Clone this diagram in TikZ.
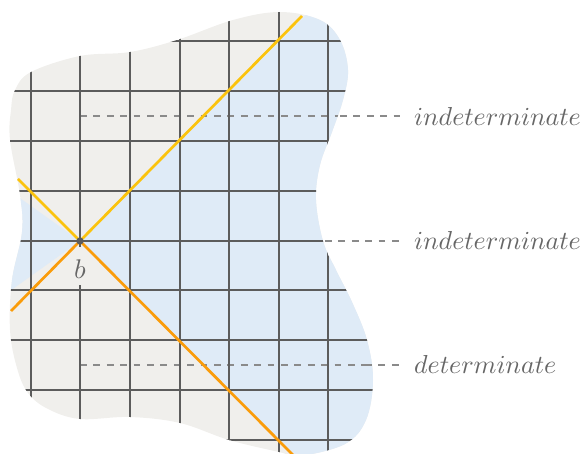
\documentclass[tikz,border=0pt]{standalone}
\usepackage{graphicx}
\begin{document}
\begin{tikzpicture}[x=1pt,y=-1pt,
  gridline/.style={draw=gridc,line width=1.1pt},
  dashline/.style={draw=dashc,line width=1.2pt,dash pattern=on 6.7pt off 6.7pt},
  cone/.style={line width=2.7pt},
  lab/.style={text=labc,inner sep=0pt,anchor=base west}]
\definecolor{bgc}{HTML}{F0EFEC}
\definecolor{bluec}{HTML}{DFEBF7}
\definecolor{gridc}{HTML}{5C5C5C}
\definecolor{dashc}{HTML}{8A8A8A}
\definecolor{yel}{HTML}{FBC30D}
\definecolor{ora}{HTML}{FA9C0A}
\definecolor{labc}{HTML}{666666}
\useasboundingbox (0,0) rectangle (582,454);
\def\blob{plot[smooth cycle,tension=0.6] coordinates {
 (15,90) (31,72) (80,56) (130,52) (177,40) (233,20) (280,12) (320,20) (340,40) (348,70)
 (343,100) (332,132) (320,165) (316,200) (323,241) (336,270) (352,302) (367,340)
 (373,380) (366,420) (345,444) (300,456) (279,452) (229,440) (180,423) (130,417)
 (80,419) (48,409) (28,393) (17,368) (10,330) (12,280) (22,232) (20,195) (10,140) (11,110)}}
\fill[bgc] \blob;
\coordinate (b) at (80,241);
\begin{scope}
 \clip \blob;
 \fill[bluec] (b) -- (-200,41) -- (-200,441) -- cycle;
 \fill[bluec] (b) -- (480,-159) -- (480,641) -- cycle;
 \draw[dashline] (80,116) -- (400,116);
 \draw[dashline] (80,365) -- (400,365);
 \foreach \x in {31,80,130,180,229,279,328} \draw[gridline] (\x,0) -- (\x,460);
 \foreach \y in {41,91,141,191,241,290,340,390,440} \draw[gridline] (0,\y) -- (400,\y);
\end{scope}
\draw[dashline] (325,241) -- (400,241);
\draw[dashline] (340,116) -- (400,116);
\draw[dashline] (365,365) -- (400,365);
\node[fill=bgc,inner sep=0pt,anchor=base,text height=32pt,text depth=6pt,minimum width=18pt,text=labc] (bl) at (80,279) {\scalebox{2.7}{$b$}};
\coordinate (y1) at (302,16);
\coordinate (y2) at (18,179);
\coordinate (o1) at (11,311);
\coordinate (o2) at (293,455);
\draw[cone,yel] (y1) -- (b);
\draw[cone,yel] (y2) -- (b);
\draw[cone,ora] (b) -- (o1);
\draw[cone,ora] (b) -- (o2);
\fill[gridc] (b) circle (3.6pt);
\node[lab] (l1) at (414,126) {\scalebox{2.6}{$indeterminate$}};
\node[lab] (l2) at (414,250) {\scalebox{2.6}{$indeterminate$}};
\node[lab] (l3) at (414,374) {\scalebox{2.6}{$determinate$}};
\end{tikzpicture}
\end{document}
